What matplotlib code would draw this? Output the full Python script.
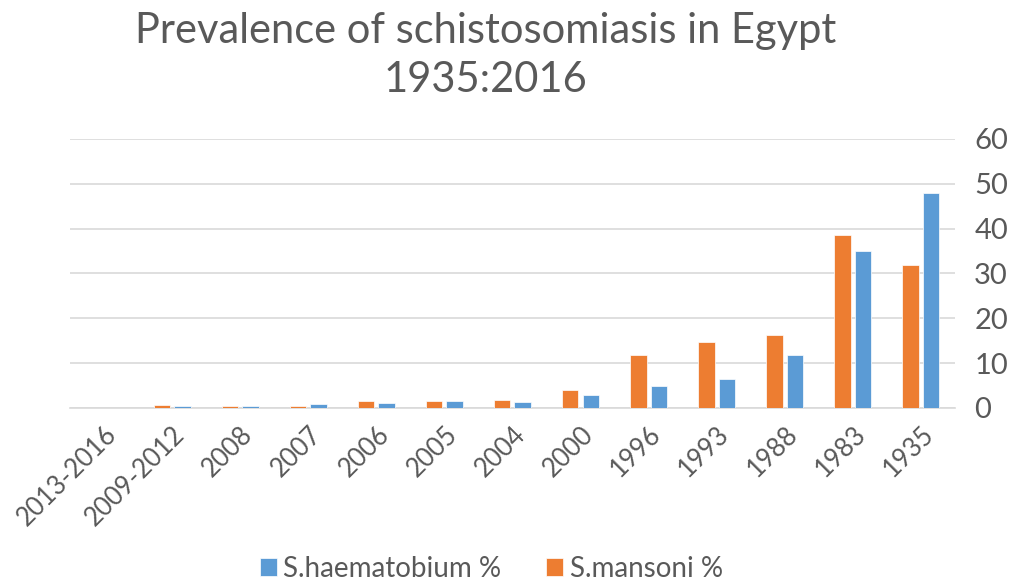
import matplotlib
matplotlib.use("Agg")
import matplotlib.pyplot as plt
import numpy as np

categories = ["2013-2016", "2009-2012", "2008", "2007", "2006", "2005", "2004",
              "2000", "1996", "1993", "1988", "1983", "1935"]
haematobium = [0.0, 0.5, 0.5, 0.9, 1.1, 1.5, 1.4, 2.9, 4.9, 6.5, 11.8, 35.0, 48.0]
mansoni = [0.0, 0.6, 0.5, 0.5, 1.5, 1.5, 1.8, 3.9, 11.8, 14.6, 16.3, 38.5, 31.8]
yticks = [0, 10, 20, 30, 40, 50, 60]

plt.rcParams['font.family'] = ['Lato', 'DejaVu Sans']
TXT = '#595959'
ORANGE = '#ED7D31'
BLUE = '#5B9BD5'

fig = plt.figure(figsize=(10.3, 5.86), dpi=100)
ax = fig.add_axes([0.068, 0.304, 0.859, 0.459])

x = np.arange(len(categories))
w = 0.24
gap = 0.03
ax.bar(x - w / 2 - gap, mansoni, width=w, color=ORANGE, edgecolor='white', linewidth=0.5,
       label='S.mansoni %', zorder=3)
ax.bar(x + w / 2 + gap, haematobium, width=w, color=BLUE, edgecolor='white', linewidth=0.5,
       label='S.haematobium %', zorder=3)

ax.set_xlim(-0.5, len(categories) - 0.5)
ax.set_ylim(0, 60)
ax.set_yticks(yticks)
ax.yaxis.tick_right()
ax.tick_params(axis='y', length=0, pad=14, labelsize=21, labelcolor=TXT)
ax.set_xticks(x)
ax.set_xticklabels(categories, rotation=45, ha='right', rotation_mode='anchor',
                   fontsize=18.5, color=TXT)
ax.tick_params(axis='x', length=0, pad=10)
ax.grid(axis='y', color='#D9D9D9', linewidth=1.2, zorder=0)
for s in ['top', 'left', 'right']:
    ax.spines[s].set_visible(False)
ax.spines['bottom'].set_color('#D9D9D9')
ax.spines['bottom'].set_linewidth(1.2)

fig.text(0.471, 0.947, 'Prevalence of schistosomiasis in Egypt', ha='center', va='center',
         fontsize=30, color=TXT)
fig.text(0.471, 0.863, '1935:2016', ha='center', va='center', fontsize=30, color=TXT)

handles, labels = ax.get_legend_handles_labels()
leg = fig.legend(handles[::-1], labels[::-1], loc='lower center', bbox_to_anchor=(0.477, -0.031),
                 ncol=2, frameon=False, fontsize=20, labelcolor=TXT, borderpad=0.3,
                 handlelength=0.6, handleheight=0.6, handletextpad=0.25, columnspacing=1.6)

fig.savefig('out.png', dpi=100)
